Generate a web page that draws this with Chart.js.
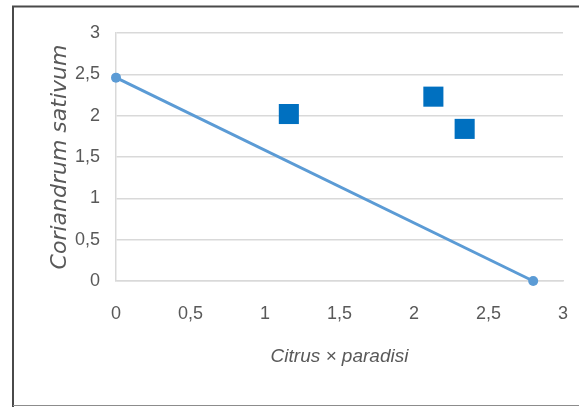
<!DOCTYPE html>
<html>
<head>
<meta charset="utf-8">
<script src="https://cdn.jsdelivr.net/npm/chart.js@4/dist/chart.umd.min.js"></script>
<style>
  html, body { margin: 0; padding: 0; background: #ffffff; }
  #wrap { position: relative; width: 579px; height: 407px; }
  canvas { display: block; }
</style>
</head>
<body>
<div id="wrap"><canvas id="c" width="579" height="407"></canvas></div>
<script>
// Observed samples (Citrus × paradisi vs Coriandrum sativum)
const citrusValues = [1.16, 2.13, 2.34];
const corianderValues = [2.02, 2.23, 1.84];

// Fitted trend line end points
const trendX = [0, 2.8];
const trendY = [2.46, 0];

// Axis ticks
const xTicks = [0, 0.5, 1, 1.5, 2, 2.5, 3];
const yTicks = [0, 0.5, 1, 1.5, 2, 2.5, 3];

const xTitle = 'Citrus × paradisi';
const yTitle = 'Coriandrum sativum';

const fmt = v => String(v).replace('.', ',');

const points = citrusValues.map((x, i) => ({ x, y: corianderValues[i] }));
const trend = trendX.map((x, i) => ({ x, y: trendY[i] }));

// Frame around the whole chart
const framePlugin = {
  id: 'frame',
  beforeDraw(chart) {
    const ctx = chart.ctx;
    ctx.save();
    ctx.fillStyle = '#ffffff';
    ctx.fillRect(0, 0, chart.width, chart.height);
    ctx.strokeStyle = '#4a4a4a';
    ctx.lineWidth = 2;
    ctx.beginPath();
    ctx.moveTo(13, 407);
    ctx.lineTo(13, 6.5);
    ctx.lineTo(579, 6.5);
    ctx.stroke();
    ctx.strokeStyle = '#8c8c8c';
    ctx.lineWidth = 1;
    ctx.beginPath();
    ctx.moveTo(13, 405.5);
    ctx.lineTo(579, 405.5);
    ctx.stroke();
    ctx.restore();
  }
};

const tickFont = { family: '"Liberation Sans Narrow", "Liberation Sans", sans-serif', size: 18 };

new Chart(document.getElementById('c'), {
  data: {
    datasets: [
      {
        type: 'line',
        data: trend,
        borderColor: '#5B9BD5',
        borderWidth: 3,
        pointRadius: 5,
        pointBackgroundColor: '#5B9BD5',
        pointBorderWidth: 0,
        tension: 0,
        clip: false,
        order: 2
      },
      {
        type: 'scatter',
        data: points,
        pointStyle: 'rect',
        pointRadius: 14.2,
        pointBackgroundColor: '#0070C0',
        pointBorderWidth: 0,
        clip: false,
        order: 1
      }
    ]
  },
  options: {
    responsive: false,
    animation: false,
    devicePixelRatio: 1,
    layout: { padding: { top: 33, right: 16, left: 0, bottom: 0 } },
    plugins: { legend: { display: false }, tooltip: { enabled: false } },
    scales: {
      x: {
        type: 'linear',
        min: 0,
        max: 3,
        afterBuildTicks(scale) { scale.ticks = xTicks.map(v => ({ value: v })); },
        afterFit(scale) {
          scale.height = 126;
          scale.paddingLeft = 0;
          scale.paddingRight = 5;
        },
        grid: { display: false, drawTicks: false },
        border: { display: true, color: '#d9d9d9', width: 1.5 },
        ticks: { color: '#595959', font: tickFont, padding: 22, maxRotation: 0, callback: v => fmt(v) },
        title: {
          display: true,
          text: xTitle,
          color: '#595959',
          font: { family: '"Liberation Sans Narrow", "Liberation Sans", sans-serif', size: 19, style: 'italic' },
          padding: { top: 0, bottom: 39 }
        }
      },
      y: {
        type: 'linear',
        min: 0,
        max: 3,
        afterBuildTicks(scale) { scale.ticks = yTicks.map(v => ({ value: v })); },
        afterFit(scale) { scale.width = 116; },
        grid: { color: '#d9d9d9', lineWidth: 1.5, drawTicks: false },
        border: { display: true, color: '#d9d9d9', width: 1.5 },
        ticks: { color: '#595959', font: tickFont, padding: 16, callback: v => fmt(v) },
        title: {
          display: true,
          text: yTitle,
          color: '#595959',
          font: { family: '"DejaVu Sans", sans-serif', size: 22, style: 'italic' },
          padding: { top: 47, bottom: 0 }
        }
      }
    }
  },
  plugins: [framePlugin]
});
</script>
</body>
</html>
